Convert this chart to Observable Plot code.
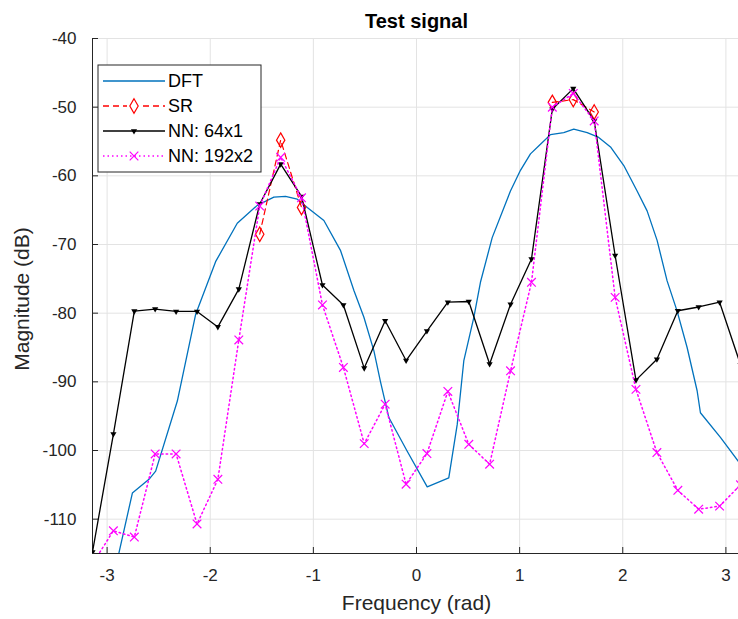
<!DOCTYPE html>
<html><head><meta charset="utf-8">
<script src="https://cdn.jsdelivr.net/npm/d3@7"></script>
<script src="https://cdn.jsdelivr.net/npm/@observablehq/plot@0.6"></script>
<style>
body{margin:0;background:#fff;}
#chart{width:738px;height:619px;overflow:hidden;}
</style></head><body><div id="chart"></div>
<script>
// ---- data ----
const xDomain = [-3.1416, 3.1416];
const yDomain = [-115, -40];
const xTicks = [-3, -2, -1, 0, 1, 2, 3];
const yTicks = [-110, -100, -90, -80, -70, -60, -50, -40];

// NN / SR frequency grid (rad)
const nnFreq = [-3.142,-2.939,-2.736,-2.534,-2.331,-2.128,-1.926,-1.723,-1.520,-1.317,-1.115,-0.912,-0.709,-0.507,-0.304,-0.101,
                0.101,0.304,0.507,0.709,0.912,1.115,1.317,1.520,1.723,1.926,2.128,2.331,2.534,2.736,2.939,3.142];
const nn64 = [-114.8,-97.6,-79.7,-79.4,-79.75,-79.75,-82,-76.5,-64.1,-58.3,-63,-75.9,-78.8,-88,-81.1,-86.9,
              -82.6,-78.4,-78.3,-87.4,-78.7,-72.1,-50.3,-47.3,-52,-71.6,-89.75,-86.7,-79.65,-79.1,-78.4,-87.5];
const nn192 = [-116.5,-111.7,-112.6,-100.5,-100.5,-110.7,-104.2,-83.9,-64.4,-57.3,-63.2,-78.8,-87.9,-99,-93.25,-104.9,
               -100.45,-91.4,-99.1,-102,-88.4,-75.5,-50,-48,-52,-77.7,-91.1,-100.3,-105.8,-108.55,-108.1,-105];
const sr = [null,null,null,null,null,null,null,null,-68.5,-54.8,-64.6,null,null,null,null,null,
            null,null,null,null,null,null,-49.3,-48.9,-50.7,null,null,null,null,null,null,null];

// DFT curve
const dftFreq = [-2.939,-2.755,-2.594,-2.529,-2.319,-2.142,-1.948,-1.738,-1.544,-1.383,-1.270,-1.156,-1.059,-0.898,-0.736,-0.607,
                 -0.510,-0.413,-0.349,-0.268,-0.090,0.104,0.313,0.395,0.459,0.556,0.620,0.734,0.911,1.008,1.105,1.202,
                 1.299,1.428,1.525,1.655,1.767,1.881,2.010,2.139,2.236,2.333,2.430,2.527,2.624,2.721,2.753,2.947,3.142];
const dftMag = [-118.5,-106.2,-104.2,-103,-92.8,-80.2,-72.5,-66.9,-64.3,-63.1,-63,-63.4,-64.6,-66.5,-70.9,-76.7,
                -80.6,-85.5,-90,-95.2,-100.1,-105.3,-104,-96.2,-86.9,-80.6,-75.5,-69,-62.2,-59.2,-56.8,-55.4,
                -54,-53.7,-53.2,-53.7,-54.4,-55.8,-58.5,-62.2,-65.1,-69.4,-75.3,-79.7,-85,-91.3,-94.5,-98.1,-102];

const seriesNames = ["DFT", "SR", "NN: 64x1", "NN: 192x2"];
const seriesColors = ["#0072BD", "#FF0000", "#000000", "#FF00FF"];

// ---- tables ----
const nnRows = nnFreq.map((f, i) => ({f, nn64: nn64[i], nn192: nn192[i], sr: sr[i]}));
const dftRows = dftFreq.map((f, i) => ({f, m: dftMag[i]}));

const axisColor = "#262626";
const font = "'Liberation Sans', Arial, Helvetica, sans-serif";

const chart = Plot.plot({
  width: 738,
  height: 619,
  marginLeft: 92,
  marginRight: -2,
  marginTop: 38,
  marginBottom: 66,
  style: {fontFamily: font, background: "#fff", color: axisColor, overflow: "visible"},
  x: {domain: xDomain, ticks: xTicks},
  y: {domain: yDomain, ticks: yTicks},
  marks: [
    Plot.gridX(xTicks, {stroke: "#e3e3e3", strokeOpacity: 1, strokeWidth: 1}),
    Plot.gridY(yTicks, {stroke: "#e3e3e3", strokeOpacity: 1, strokeWidth: 1}),
    Plot.ruleX([xDomain[0]], {stroke: axisColor, strokeWidth: 1}),
    Plot.ruleY([yDomain[0]], {stroke: axisColor, strokeWidth: 1}),
    Plot.axisY(yTicks, {anchor: "left", tickSize: -6, tickPadding: 22, fontSize: 17, label: null,
      tickFormat: d => String(d), stroke: axisColor, fill: axisColor}),
    Plot.axisX(xTicks, {anchor: "bottom", tickSize: -6, tickPadding: 21, fontSize: 17, label: null,
      tickFormat: d => String(d), stroke: axisColor, fill: axisColor}),
    // DFT
    Plot.line(dftRows, {x: "f", y: "m", stroke: seriesColors[0], strokeWidth: 1.3, clip: true}),
    // SR
    Plot.line(nnRows, {x: "f", y: "sr", stroke: seriesColors[1], strokeWidth: 1.2, strokeDasharray: "6,4", clip: true}),
    Plot.dot(nnRows, {x: "f", y: "sr", symbol: "diamond", r: 4.4, stroke: seriesColors[1], strokeWidth: 1.2, fill: "none"}),
    // NN 64x1
    Plot.line(nnRows, {x: "f", y: "nn64", stroke: seriesColors[2], strokeWidth: 1.3, clip: true}),
    Plot.dot(nnRows, {x: "f", y: "nn64", symbol: "triangle", rotate: 180, r: 2.3, fill: seriesColors[2], stroke: "none", clip: true}),
    // NN 192x2
    Plot.line(nnRows, {x: "f", y: "nn192", stroke: seriesColors[3], strokeWidth: 1.5, strokeDasharray: "1.5,3", clip: true}),
    Plot.dot(nnRows, {x: "f", y: "nn192", symbol: "times", r: 4, stroke: seriesColors[3], strokeWidth: 1.2, clip: true}),
    // titles
    Plot.text(["Test signal"], {frameAnchor: "top", dy: -25, textAnchor: "middle", text: d => d, fontSize: 20, fontWeight: "bold", fill: "#000"}),
    Plot.text(["Frequency (rad)"], {frameAnchor: "bottom", dy: 56, textAnchor: "middle", text: d => d, fontSize: 21, fill: axisColor}),
    Plot.text(["Magnitude (dB)"], {frameAnchor: "left", dx: -70, dy: 3, rotate: -90, textAnchor: "middle", text: d => d, fontSize: 21, fill: axisColor})
  ]
});

document.getElementById("chart").appendChild(chart);

// ---- legend (inside plot, top-left) ----
const svg = d3.select(chart);
const lg = svg.append("g").attr("font-family", font).attr("font-size", 18).attr("text-anchor", "start");
lg.append("rect").attr("x", 98).attr("y", 65).attr("width", 163).attr("height", 107)
  .attr("fill", "#fff").attr("stroke", axisColor).attr("stroke-width", 1);
const rowsY = [81, 106, 131, 156];
const dashes = [null, "6,4", null, "1.5,3"];
seriesNames.forEach((name, i) => {
  const y = rowsY[i];
  lg.append("line").attr("x1", 103).attr("x2", 165).attr("y1", y).attr("y2", y)
    .attr("stroke", seriesColors[i]).attr("stroke-width", i === 3 ? 1.5 : 1.3)
    .attr("stroke-dasharray", dashes[i]);
  const cx = 134;
  if (i === 1) {
    lg.append("rect").attr("x", cx - 7).attr("y", y - 8).attr("width", 14).attr("height", 16).attr("fill", "#fff");
    lg.append("path").attr("d", d3.symbol(d3.symbolDiamond, Math.PI * 4.4 * 4.4)()).attr("transform", `translate(${cx},${y})`)
      .attr("fill", "none").attr("stroke", seriesColors[1]).attr("stroke-width", 1.2);
  } else if (i === 2) {
    lg.append("path").attr("d", d3.symbol(d3.symbolTriangle, Math.PI * 2.3 * 2.3)()).attr("transform", `translate(${cx},${y}) rotate(180)`)
      .attr("fill", "#000");
  } else if (i === 3) {
    lg.append("path").attr("d", d3.symbol(d3.symbolTimes, Math.PI * 16)()).attr("transform", `translate(${cx},${y})`)
      .attr("fill", "none").attr("stroke", seriesColors[3]).attr("stroke-width", 1.2);
  }
  lg.append("text").attr("x", 168).attr("y", y).attr("dy", "0.36em").attr("fill", "#000").text(name);
});
</script>
</body></html>
